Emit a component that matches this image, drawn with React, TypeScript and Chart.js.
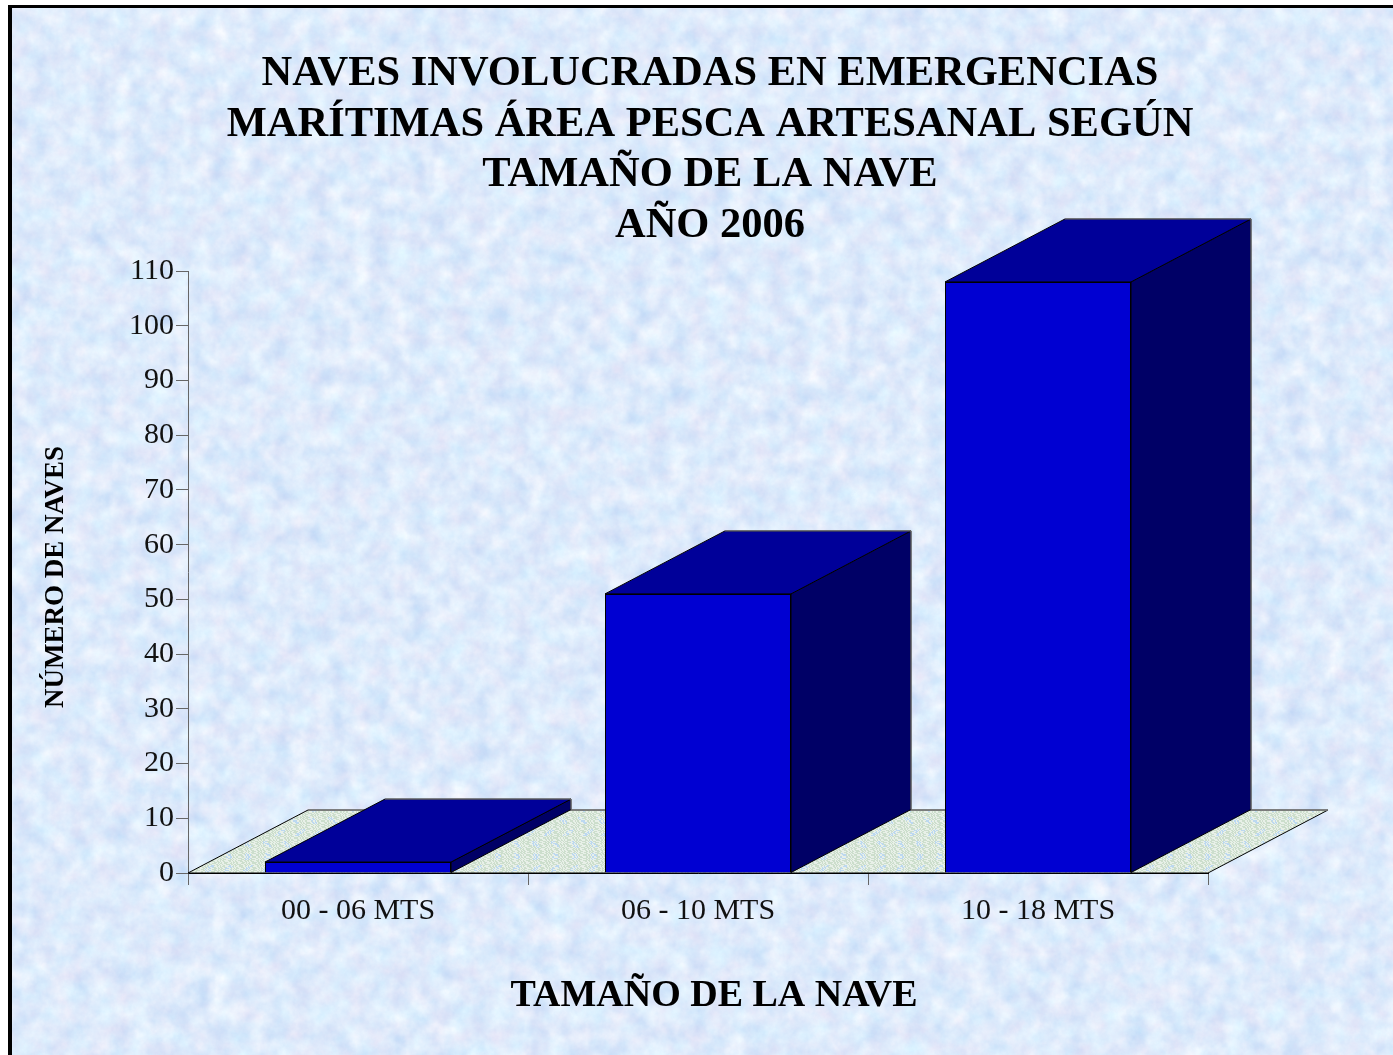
import React, { useEffect, useRef } from "react";
import { Chart, registerables } from "chart.js";

Chart.register(...registerables);

const categories = ["00 - 06 MTS", "06 - 10 MTS", "10 - 18 MTS"];
const seriesValues = [2, 51, 108];
const titleLines = [
  "NAVES INVOLUCRADAS EN EMERGENCIAS",
  "MARÍTIMAS ÁREA PESCA ARTESANAL SEGÚN",
  "TAMAÑO DE LA NAVE",
  "AÑO 2006",
];
const xAxisTitle = "TAMAÑO DE LA NAVE";
const yAxisTitle = "NÚMERO DE NAVES";

const FONT = '"Liberation Serif", serif';
const DEPTH_X = 120;
const DEPTH_Y = 63;
const TITLE_SIZE = 42.5;

const textureSvg = `<svg xmlns='http://www.w3.org/2000/svg' width='1393' height='1055'><filter id='n' x='0' y='0' width='100%' height='100%' color-interpolation-filters='sRGB'><feTurbulence type='fractalNoise' baseFrequency='0.05' numOctaves='5' seed='7' stitchTiles='stitch'/><feColorMatrix type='matrix' values='0.17 0.13 0 0 0.72  0.05 0.14 0 0 0.825  0 0.05 0 0 0.96  0 0 0 0 1'/></filter><rect width='1393' height='1055' filter='url(#n)'/></svg>`;

function floorPattern(ctx: CanvasRenderingContext2D) {
  const size = 96;
  const tile = document.createElement("canvas");
  tile.width = size;
  tile.height = size;
  const t = tile.getContext("2d")!;
  const img = t.createImageData(size, size);
  const a = (2 * Math.PI) / size;
  for (let y = 0; y < size; y++) {
    for (let x = 0; x < size; x++) {
      const wave = Math.sin(a * 24 * x + 3 * Math.sin(a * 17 * y) + a * 16 * y + 2 * Math.sin(a * 7 * x));
      const blotch = Math.sin(a * 5 * x + 1 + 2 * Math.sin(a * 3 * y)) * Math.sin(a * 4 * y + 0.5);
      const i = (y * size + x) * 4;
      const light = wave > 0.1;
      const blue = blotch > 0.55;
      img.data[i] = light ? 232 : blue ? 188 : 204;
      img.data[i + 1] = light ? 240 : blue ? 216 : 222;
      img.data[i + 2] = light ? 232 : blue ? 240 : 204;
      img.data[i + 3] = 255;
    }
  }
  t.putImageData(img, 0, 0);
  return ctx.createPattern(tile, "repeat")!;
}

function face(ctx: CanvasRenderingContext2D, pts: number[][], fill: CanvasRenderingContext2D["fillStyle"], stroke: string) {
  ctx.beginPath();
  pts.forEach((p, i) => (i ? ctx.lineTo(p[0], p[1]) : ctx.moveTo(p[0], p[1])));
  ctx.closePath();
  ctx.fillStyle = fill;
  ctx.fill();
  ctx.strokeStyle = stroke;
  ctx.lineWidth = 1;
  ctx.stroke();
}

function line(ctx: CanvasRenderingContext2D, a: number[], b: number[], color: string, width = 1) {
  ctx.beginPath();
  ctx.moveTo(a[0], a[1]);
  ctx.lineTo(b[0], b[1]);
  ctx.strokeStyle = color;
  ctx.lineWidth = width;
  ctx.stroke();
}

const depthPlugin = {
  id: "depth",
  beforeDraw(chart: any) {
    // Shift the titles to where the reference centres them.
    const tb = chart.titleBlock;
    if (tb && !tb.$shifted) {
      tb.left += 106;
      tb.right += 106;
      tb.$shifted = true;
    }
    const shift = (scale: any, dx: number, dy: number) => {
      if (scale.$shifted) return;
      const orig = scale.drawTitle;
      scale.drawTitle = function (...args: any[]) {
        const c = this.ctx;
        c.save();
        c.translate(dx, dy);
        orig.apply(this, args);
        c.restore();
      };
      scale.$shifted = true;
    };
    shift(chart.scales.x, 16, 0);
    shift(chart.scales.y, 0, 5);
  },
  beforeDatasetsDraw(chart: any) {
    const { ctx, scales } = chart;
    const y0 = scales.y.getPixelForValue(0);
    const l = scales.x.left;
    const r = scales.x.right;
    ctx.save();
    const floor = [
      [l, y0],
      [r, y0],
      [r + DEPTH_X, y0 - DEPTH_Y],
      [l + DEPTH_X, y0 - DEPTH_Y],
    ];
    face(ctx, floor, floorPattern(ctx), "#000000");
    line(ctx, floor[2], floor[3], "#808080", 1.5);
    chart.getDatasetMeta(0).data.forEach((bar: any) => {
      const x0 = bar.x - bar.width / 2;
      const x1 = bar.x + bar.width / 2;
      const top = bar.y;
      const base = bar.base;
      face(
        ctx,
        [
          [x1, top],
          [x1 + DEPTH_X, top - DEPTH_Y],
          [x1 + DEPTH_X, base - DEPTH_Y],
          [x1, base],
        ],
        "#000066",
        "#000000",
      );
      face(
        ctx,
        [
          [x0, top],
          [x1, top],
          [x1 + DEPTH_X, top - DEPTH_Y],
          [x0 + DEPTH_X, top - DEPTH_Y],
        ],
        "#000099",
        "#000000",
      );
      line(ctx, [x0 + DEPTH_X, top - DEPTH_Y], [x1 + DEPTH_X, top - DEPTH_Y], "#808080");
      line(ctx, [x1 + DEPTH_X, top - DEPTH_Y], [x1 + DEPTH_X, base - DEPTH_Y], "#808080");
    });
    ctx.restore();
  },
};

export default function App() {
  const ref = useRef<HTMLCanvasElement>(null);
  useEffect(() => {
    document.body.style.margin = "0";
    document.body.style.overflow = "hidden";
    const chart = new Chart(ref.current!, {
      type: "bar",
      data: {
        labels: categories,
        datasets: [
          {
            data: seriesValues,
            backgroundColor: "#0000D2",
            borderColor: "#000000",
            borderWidth: 1,
            barPercentage: 186 / 340,
            categoryPercentage: 1,
          },
        ],
      },
      plugins: [depthPlugin],
      options: {
        animation: false,
        responsive: false,
        layout: { autoPadding: false, padding: { left: 0, right: 185, top: 0, bottom: 0 } },
        plugins: {
          legend: { display: false },
          tooltip: { enabled: false },
          title: {
            display: true,
            text: titleLines,
            color: "#000000",
            font: { family: FONT, size: TITLE_SIZE, weight: "bold", lineHeight: 50.5 / TITLE_SIZE },
            padding: { top: 49, bottom: 20 },
          },
        },
        scales: {
          x: {
            afterFit: (s: any) => {
              s.height = 182;
            },
            border: { color: "#000000", width: 1 },
            grid: { drawOnChartArea: false, tickLength: 12, color: "#666666" },
            ticks: { color: "#111111", font: { family: FONT, size: 30 }, padding: 8, maxRotation: 0 },
            title: {
              display: true,
              text: xAxisTitle,
              color: "#000000",
              font: { family: FONT, size: 38, weight: "bold" },
              padding: { top: 0, bottom: 36 },
            },
          },
          y: {
            min: 0,
            max: 110,
            afterFit: (s: any) => {
              s.width = 188;
            },
            border: { color: "#666666", width: 1 },
            grid: { drawOnChartArea: false, tickLength: 12, color: "#666666" },
            ticks: { stepSize: 10, color: "#111111", font: { family: FONT, size: 30 }, padding: 2 },
            title: {
              display: true,
              text: yAxisTitle,
              color: "#000000",
              font: { family: FONT, size: 27, weight: "bold" },
              padding: { top: 40, bottom: 0 },
            },
          },
        },
      },
    } as any);
    return () => chart.destroy();
  }, []);
  return (
    <div style={{ position: "relative", width: 1393, height: 1055, overflow: "hidden", background: "#ffffff" }}>
      <div
        style={{
          position: "absolute",
          left: 8,
          top: 5,
          width: 1385,
          height: 1050,
          boxSizing: "border-box",
          borderLeft: "4px solid #000000",
          borderTop: "3px solid #000000",
          backgroundColor: "#D8E8FB",
          backgroundImage: `url("data:image/svg+xml,${encodeURIComponent(textureSvg)}")`,
        }}
      />
      <canvas ref={ref} width={1393} height={1055} style={{ position: "absolute", left: 0, top: 0 }} />
    </div>
  );
}
